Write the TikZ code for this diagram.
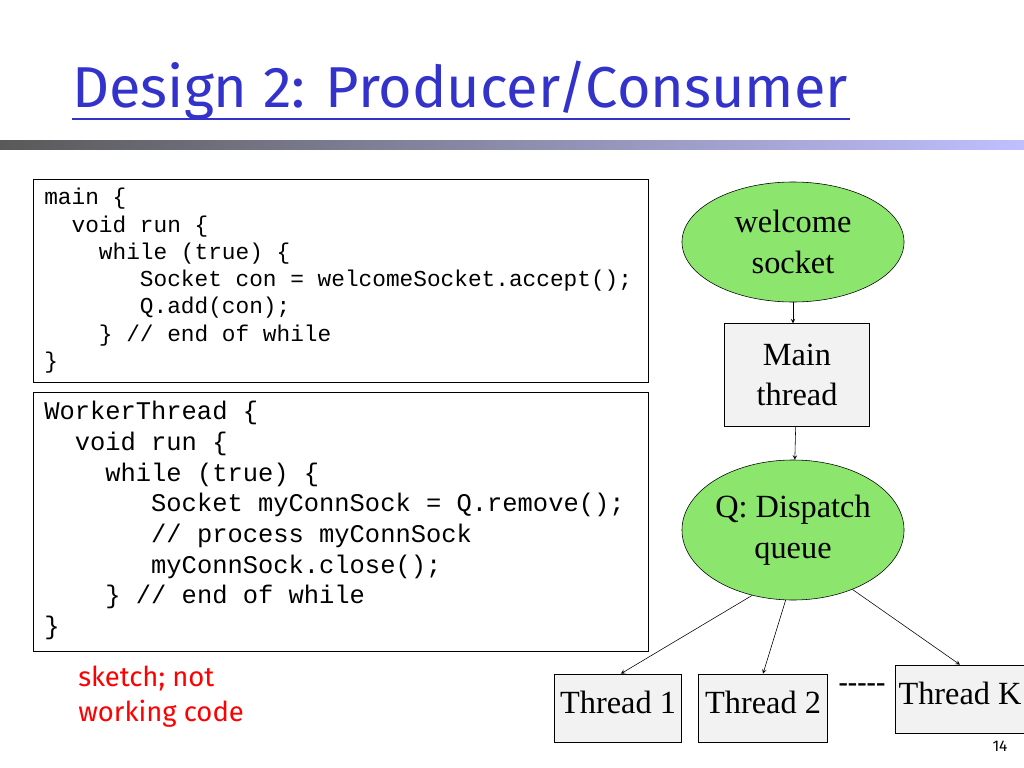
\documentclass[tikz,border=0pt]{standalone}
\usepackage{fontspec}
\setmainfont{Liberation Serif}
\newfontfamily\codefont{Liberation Mono}
\newfontfamily\handfont{Fira Sans}
\usetikzlibrary{shapes,arrows,positioning,calc}
\definecolor{titleblue}{RGB}{51,51,204}
\definecolor{qgreen}{RGB}{140,230,110}
\definecolor{boxgray}{RGB}{242,242,242}
\begin{document}
\begin{tikzpicture}[x=0.025cm,y=-0.025cm]
  \tikzstyle{sock}=[ellipse, draw, fill=qgreen, font=\fontsize{23}{29}\selectfont, align=center, inner sep=0pt]
  \tikzstyle{proc}=[rectangle, draw, fill=boxgray, font=\fontsize{23}{29}\selectfont, align=center, inner sep=0pt]
  \tikzstyle{link}=[->, >=stealth]
  \useasboundingbox (0,0) rectangle (1024,768);

  % Titel und Balken
  \node[anchor=base west, text=titleblue, font=\handfont\fontsize{41}{44}\selectfont, inner sep=0pt] (title) at (72,108) {Design 2: Producer/Consumer};
  \draw[titleblue, thick] (72,119) -- (850,119);
  \shade[left color=gray!70!black, right color=blue!25] (0,141) rectangle (1024,150);

  % Code
  \draw (33,179) rectangle (648,382);
  \node[anchor=north west, align=left, inner sep=0pt, font=\codefont\fontsize{16.2}{19.4}\selectfont] (main) at (44,188) {%
main \{\\
\ \ void run \{\\
\ \ \ \ while (true) \{\\
\ \ \ \ \ \ \ Socket con = welcomeSocket.accept();\\
\ \ \ \ \ \ \ Q.add(con);\\
\ \ \ \ \} // end of while\\
\}};
  \draw (33,392) rectangle (648,651);
  \node[anchor=north west, align=left, inner sep=0pt, font=\codefont\fontsize{18.1}{21.8}\selectfont] (worker) at (44,401) {%
WorkerThread \{\\
\ \ void run \{\\
\ \ \ \ while (true) \{\\
\ \ \ \ \ \ \ Socket myConnSock = Q.remove();\\
\ \ \ \ \ \ \ // process myConnSock\\
\ \ \ \ \ \ \ myConnSock.close();\\
\ \ \ \ \} // end of while\\
\}};
  \node[anchor=north west, align=left, inner sep=0pt, red, font=\handfont\fontsize{19.5}{24.5}\selectfont] (note) at (78,666) {sketch; not\\working code};

  % Graph
  \node[sock, minimum width=5.55cm, minimum height=3cm] (welcome) at (793,242) {welcome\\socket};
  \node[proc, minimum width=3.62cm, minimum height=2.57cm] (mainth) at (797,375) {Main\\thread};
  \node[sock, minimum width=5.55cm, minimum height=3.5cm] (queue) at (793,530) {Q: Dispatch\\queue};
  \node[proc, minimum width=3.17cm, minimum height=1.7cm, text depth=8pt] (t1) at (618,708) {Thread 1};
  \node[proc, minimum width=3.22cm, minimum height=1.7cm, text depth=8pt] (t2) at (763,708) {Thread 2};
  \node[proc, minimum width=3.22cm, minimum height=1.7cm, text depth=8pt] (tk) at (960,699) {Thread K};
  \node[font=\bfseries\fontsize{20}{24}\selectfont, inner sep=0pt] (dots) at (862,688) {{-}{-}{-}{-}{-}};

  \draw[link] (welcome) -- (welcome |- mainth.north);
  \draw[link] (mainth) -- (queue);
  \draw[link] (queue.-122) -- ([xshift=2]t1.north);
  \draw[link] (queue.-96) -- (t2.north);
  \draw[link] (queue.-45) -- (tk.north);

  \node[font=\handfont\fontsize{11}{13}\selectfont] (page) at (1000,746) {14};
\end{tikzpicture}
\end{document}
